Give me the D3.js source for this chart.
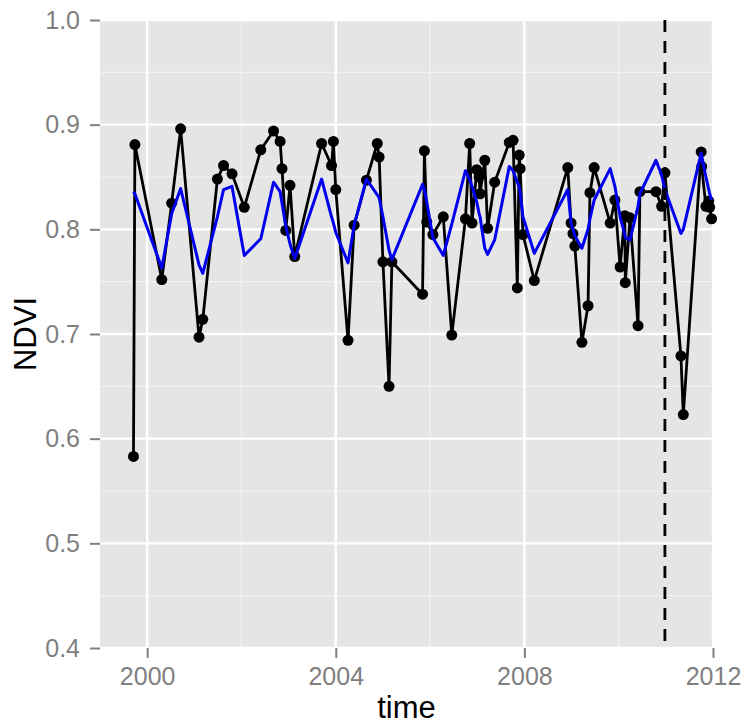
<!DOCTYPE html>
<html>
<head>
<meta charset="utf-8">
<script src="https://cdn.jsdelivr.net/npm/d3@7"></script>
<style>
body { margin: 0; background: #fff; }
svg text { font-family: "Liberation Sans", Arial, sans-serif; }
</style>
</head>
<body>
<div id="chart"></div>
<script>
// observed NDVI (decimal years) and the fitted seasonal model at the same dates
var times = [1999.71, 1999.74, 2000.31, 2000.52, 2000.71, 2001.10, 2001.18, 2001.49, 2001.62, 2001.80,
    2002.06, 2002.41, 2002.68, 2002.82, 2002.86, 2002.94, 2003.03, 2003.13, 2003.70, 2003.91,
    2003.95, 2004.00, 2004.26, 2004.39, 2004.65, 2004.88, 2004.92, 2005.00, 2005.13, 2005.19,
    2005.84, 2005.88, 2005.93, 2006.06, 2006.28, 2006.46, 2006.75, 2006.84, 2006.89, 2006.99,
    2007.04, 2007.06, 2007.16, 2007.22, 2007.37, 2007.68, 2007.76, 2007.85, 2007.89, 2007.91,
    2007.97, 2008.21, 2008.92, 2008.99, 2009.03, 2009.07, 2009.22, 2009.35, 2009.39, 2009.48,
    2009.82, 2009.92, 2010.03, 2010.13, 2010.14, 2010.24, 2010.41, 2010.45, 2010.79, 2010.91,
    2010.98, 2011.32, 2011.37, 2011.75, 2011.76, 2011.85, 2011.91, 2011.93, 2011.97];

var ndvi = [0.583, 0.881, 0.752, 0.825, 0.896, 0.697, 0.714, 0.848, 0.861, 0.853,
    0.821, 0.876, 0.894, 0.884, 0.858, 0.799, 0.842, 0.774, 0.882, 0.861,
    0.884, 0.838, 0.694, 0.804, 0.847, 0.882, 0.869, 0.769, 0.650, 0.769,
    0.738, 0.875, 0.807, 0.795, 0.812, 0.699, 0.810, 0.882, 0.806, 0.857,
    0.850, 0.834, 0.866, 0.801, 0.845, 0.883, 0.885, 0.744, 0.871, 0.858,
    0.795, 0.751, 0.859, 0.806, 0.796, 0.784, 0.692, 0.727, 0.835, 0.859,
    0.806, 0.828, 0.764, 0.813, 0.749, 0.811, 0.708, 0.836, 0.836, 0.822,
    0.854, 0.679, 0.623, 0.874, 0.860, 0.822, 0.827, 0.821, 0.810];

var fitted = [0.836, 0.834, 0.763, 0.815, 0.839, 0.766, 0.758, 0.812, 0.838, 0.841,
    0.775, 0.791, 0.845, 0.836, 0.825, 0.803, 0.786, 0.772, 0.848, 0.812,
    0.806, 0.797, 0.768, 0.804, 0.848, 0.833, 0.830, 0.812, 0.780, 0.771,
    0.843, 0.838, 0.826, 0.792, 0.775, 0.805, 0.856, 0.848, 0.841, 0.826,
    0.815, 0.812, 0.782, 0.776, 0.790, 0.860, 0.856, 0.845, 0.841, 0.835,
    0.812, 0.777, 0.838, 0.806, 0.800, 0.794, 0.782, 0.800, 0.810, 0.828,
    0.858, 0.841, 0.812, 0.795, 0.792, 0.790, 0.822, 0.834, 0.866, 0.852,
    0.838, 0.796, 0.800, 0.873, 0.870, 0.850, 0.838, 0.834, 0.828];

var breakTime = 2010.98;

var xTicks = [2000, 2004, 2008, 2012];
var xMinor = [2002, 2006, 2010];
var yTicks = [0.4, 0.5, 0.6, 0.7, 0.8, 0.9, 1.0];
var yMinor = [0.45, 0.55, 0.65, 0.75, 0.85, 0.95];

drawChart();

function drawChart() {
    var w = 744, h = 725;
    var pl = 100, pr = 713, pt = 20, pb = 648;

    var svg = d3.select("#chart").append("svg")
        .attr("width", w)
        .attr("height", h);

    var x = d3.scaleLinear().domain([1999.0, 2012.0]).range([pl, pr]);
    var y = d3.scaleLinear().domain([0.4, 1.0]).range([pb, pt]);

    // panel
    svg.append("rect")
        .attr("x", pl).attr("y", pt)
        .attr("width", pr - pl).attr("height", pb - pt)
        .attr("fill", "#e5e5e5");

    var grid = svg.append("g");
    xMinor.forEach(function(t) {
        grid.append("line").attr("x1", x(t)).attr("x2", x(t)).attr("y1", pt).attr("y2", pb)
            .attr("stroke", "#f2f2f2").attr("stroke-width", 1.2);
    });
    yMinor.forEach(function(v) {
        grid.append("line").attr("x1", pl).attr("x2", pr).attr("y1", y(v)).attr("y2", y(v))
            .attr("stroke", "#f2f2f2").attr("stroke-width", 1.2);
    });
    xTicks.forEach(function(t) {
        grid.append("line").attr("x1", x(t)).attr("x2", x(t)).attr("y1", pt).attr("y2", pb)
            .attr("stroke", "#fff").attr("stroke-width", 2.4);
    });
    yTicks.forEach(function(v) {
        grid.append("line").attr("x1", pl).attr("x2", pr).attr("y1", y(v)).attr("y2", y(v))
            .attr("stroke", "#fff").attr("stroke-width", 2.4);
    });

    var data = times.map(function(t, i) { return { t: t, v: ndvi[i], f: fitted[i] }; });

    var line = d3.line().x(function(d) { return x(d.t); }).y(function(d) { return y(d.v); });
    var fitLine = d3.line().x(function(d) { return x(d.t); }).y(function(d) { return y(d.f); });

    svg.append("path")
        .datum(data)
        .attr("d", line)
        .attr("fill", "none")
        .attr("stroke", "#000")
        .attr("stroke-width", 2.8)
        .attr("stroke-linejoin", "round");

    svg.selectAll("circle.obs")
        .data(data)
        .enter().append("circle")
        .attr("class", "obs")
        .attr("cx", function(d) { return x(d.t); })
        .attr("cy", function(d) { return y(d.v); })
        .attr("r", 5.5)
        .attr("fill", "#000");

    svg.append("path")
        .datum(data)
        .attr("d", fitLine)
        .attr("fill", "none")
        .attr("stroke", "#0000ee")
        .attr("stroke-width", 3)
        .attr("stroke-linejoin", "round");

    // breakpoint
    svg.append("line")
        .attr("x1", x(breakTime)).attr("x2", x(breakTime))
        .attr("y1", pt).attr("y2", pb)
        .attr("stroke", "#000")
        .attr("stroke-width", 2.8)
        .attr("stroke-dasharray", "12,9");

    // axes
    var xAxis = svg.append("g")
        .attr("transform", "translate(0," + pb + ")")
        .call(d3.axisBottom(x).tickValues(xTicks).tickFormat(d3.format("d")).tickSize(10).tickPadding(9));
    var yAxis = svg.append("g")
        .attr("transform", "translate(" + pl + ",0)")
        .call(d3.axisLeft(y).tickValues(yTicks).tickFormat(d3.format(".1f")).tickSize(10).tickPadding(10));

    [xAxis, yAxis].forEach(function(a) {
        a.select(".domain").remove();
        a.selectAll(".tick line").attr("stroke", "#7f7f7f").attr("stroke-width", 2);
        a.selectAll(".tick text").attr("fill", "#7f7f7f").style("font-size", "25px");
    });

    svg.append("text")
        .attr("x", (pl + pr) / 2)
        .attr("y", 718)
        .attr("text-anchor", "middle")
        .style("font-size", "31px")
        .attr("fill", "#000")
        .text("time");

    svg.append("text")
        .attr("transform", "translate(36," + (pt + pb) / 2 + ") rotate(-90)")
        .attr("text-anchor", "middle")
        .style("font-size", "31px")
        .attr("fill", "#000")
        .text("NDVI");
}
</script>
</body>
</html>
